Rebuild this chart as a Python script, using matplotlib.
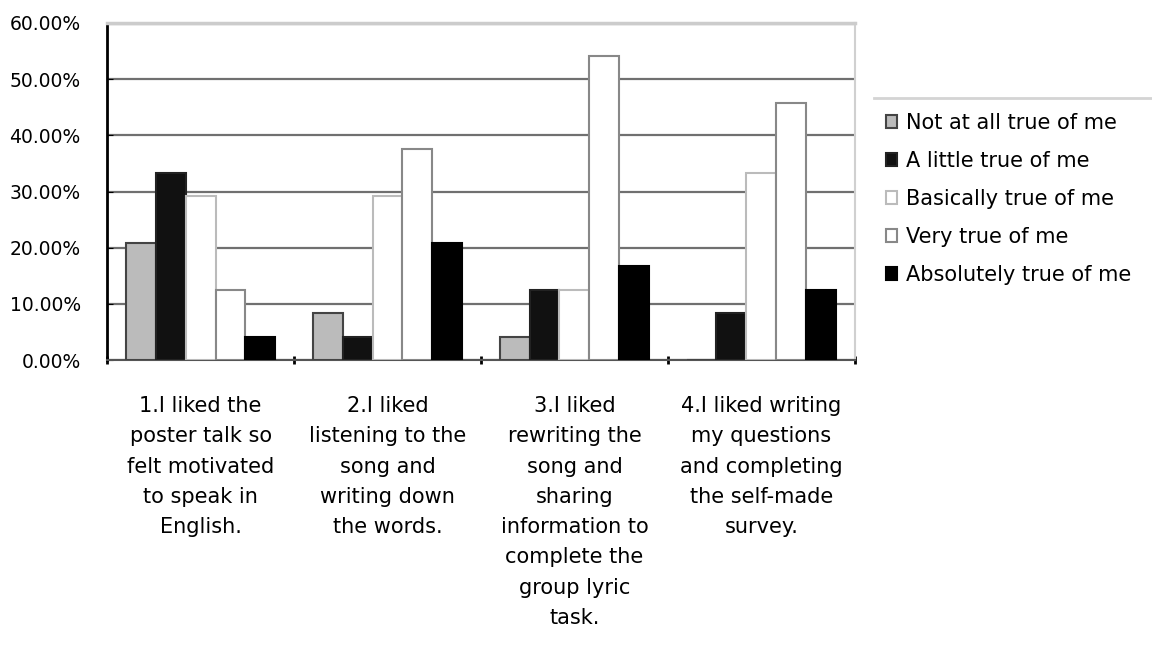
import numpy as np
import matplotlib
matplotlib.use("Agg")
import matplotlib.pyplot as plt
from matplotlib.lines import Line2D
from matplotlib.ticker import FuncFormatter

plt.rcParams['font.family'] = ['DejaVu Sans']

# survey items (x categories)
items = [
    "1.I liked the\nposter talk so\nfelt motivated\nto speak in\nEnglish.",
    "2.I liked\nlistening to the\nsong and\nwriting down\nthe words.",
    "3.I liked\nrewriting the\nsong and\nsharing\ninformation to\ncomplete the\ngroup lyric\ntask.",
    "4.I liked writing\nmy questions\nand completing\nthe self-made\nsurvey.",
]

# share of answers per response level (%)
not_at_all = [20.83, 8.33, 4.17, 0.00]
a_little = [33.33, 4.17, 12.50, 8.33]
basically = [29.17, 29.17, 12.50, 33.33]
very = [12.50, 37.50, 54.17, 45.83]
absolutely = [4.17, 20.83, 16.67, 12.50]

series = [
    ("Not at all true of me", not_at_all, "#bbbbbb", "#444444"),
    ("A little true of me", a_little, "#111111", "#222222"),
    ("Basically true of me", basically, "#ffffff", "#bbbbbb"),
    ("Very true of me", very, "#ffffff", "#888888"),
    ("Absolutely true of me", absolutely, "#000000", "#000000"),
]

fig = plt.figure(figsize=(11.52, 6.57), dpi=100)
ax = fig.add_axes([0.093, 0.452, 0.649, 0.513])

x = np.arange(len(items))
width = 0.16
for i, (name, vals, face, edge) in enumerate(series):
    ax.bar(x + (i - 2) * width, vals, width, color=face, edgecolor=edge,
           linewidth=1.5, label=name, zorder=3)

ax.set_xlim(-0.5, len(items) - 0.5)
ax.set_ylim(0, 60)
ax.set_yticks(np.arange(0, 61, 10))
ax.yaxis.set_major_formatter(FuncFormatter(lambda v, p: f"{v:.2f}%"))
ax.tick_params(axis='y', length=4, direction='in', pad=19, labelsize=13.5)

ax.set_xticks(x)
ax.set_xticklabels(items, fontsize=15, linespacing=1.64, va='top')
ax.tick_params(axis='x', which='major', length=0, pad=26)
ax.set_xticks(np.arange(-0.5, len(items)), minor=True)
ax.tick_params(axis='x', which='minor', length=6, width=2, direction='inout', color='black')

ax.yaxis.grid(True, color='#707070', linewidth=1.6, zorder=0)
ax.set_axisbelow(True)
ax.yaxis.get_gridlines()[-1].set_color('#cccccc')
ax.yaxis.get_gridlines()[-1].set_linewidth(2.5)

ax.spines['left'].set_color('black')
ax.spines['left'].set_linewidth(2)
ax.spines['bottom'].set_color('#555555')
ax.spines['bottom'].set_linewidth(1.5)
ax.spines['top'].set_color('#cccccc')
ax.spines['top'].set_linewidth(2.5)
ax.spines['right'].set_color('#d0d0d0')
ax.spines['right'].set_linewidth(1.5)

ax.legend(loc='center left', bbox_to_anchor=(1.03, 0.478), frameon=False,
          fontsize=15, handlelength=0.55, handleheight=0.55, handletextpad=0.45,
          labelspacing=0.86, borderaxespad=0)

# light rule above the legend
fig.add_artist(Line2D([0.759, 1.0], [0.851, 0.851], color='#d4d4d4', linewidth=2))

fig.savefig("out.png", dpi=100)
